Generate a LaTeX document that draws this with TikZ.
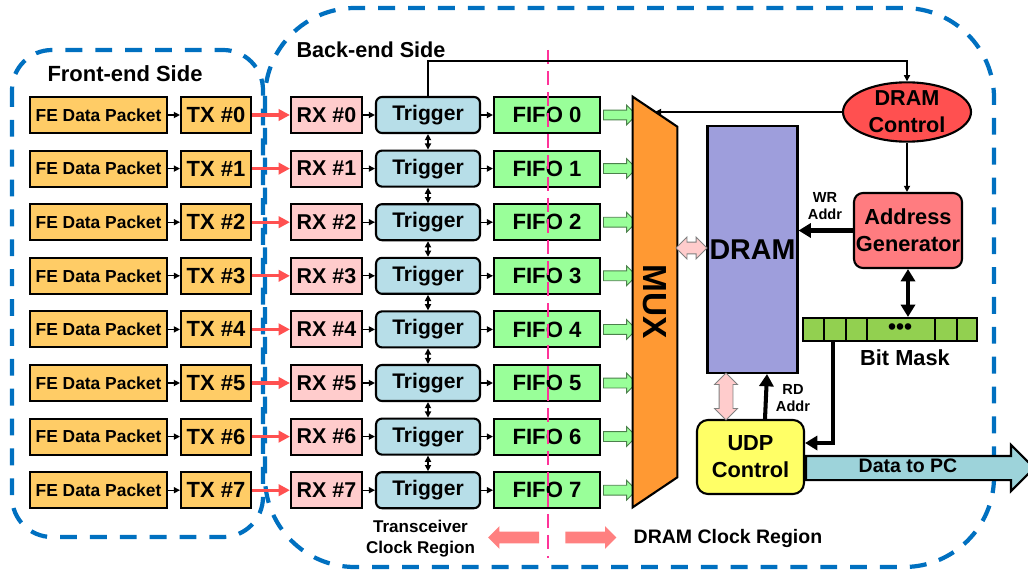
\documentclass[tikz,border=0pt]{standalone}
\usepackage{fontspec}
\setmainfont{Liberation Sans}
\usepackage{tikz}
\usetikzlibrary{shapes.geometric, shapes.arrows, arrows.meta, positioning, calc}
\definecolor{feorange}{HTML}{FFCC66}
\definecolor{rxpink}{HTML}{FFCCCC}
\definecolor{trigblue}{HTML}{B7DEE8}
\definecolor{fifogreen}{HTML}{99FF99}
\definecolor{muxorange}{HTML}{FF9933}
\definecolor{dramviolet}{HTML}{9E9EDC}
\definecolor{ctlred}{HTML}{FF5050}
\definecolor{addrsalmon}{HTML}{FF7C80}
\definecolor{maskgreen}{HTML}{92D050}
\definecolor{udpyellow}{HTML}{FFFF66}
\definecolor{pcteal}{HTML}{9DD3DA}
\definecolor{regionblue}{HTML}{0070C0}
\definecolor{clockpink}{HTML}{FF3399}
\definecolor{linkred}{HTML}{FF5050}
\definecolor{clockarrow}{HTML}{FF8080}

\begin{document}
\begin{tikzpicture}[
    x=0.02cm, y=-0.02cm,
    every node/.style={font=\bfseries},
    blk/.style={rectangle, draw, line width=1.2pt, inner sep=0pt,
                minimum height=0.72cm, align=center},
    febox/.style={blk, fill=feorange, minimum width=2.74cm,
                  font=\bfseries\fontsize{9.9}{12}\selectfont},
    txbox/.style={blk, fill=feorange, minimum width=1.4cm,
                  font=\bfseries\fontsize{12.5}{15}\selectfont},
    rxbox/.style={blk, fill=rxpink, minimum width=1.42cm,
                  font=\bfseries\fontsize{12.2}{15}\selectfont},
    trigbox/.style={blk, fill=trigblue, minimum width=2.08cm, rounded corners=0.12cm,
                    font=\bfseries\fontsize{12}{15}\selectfont},
    fifobox/.style={blk, fill=fifogreen, minimum width=2.12cm,
                    font=\bfseries\fontsize{12.6}{15}\selectfont},
    ctlbox/.style={blk, rounded corners=0.18cm, font=\bfseries\fontsize{12.4}{15.3}\selectfont},
    arrow/.style={-{Triangle[length=3.5pt, width=3.5pt]}, line width=0.7pt},
    dblarrow/.style={{Triangle[length=3.5pt, width=3.5pt]}-{Triangle[length=3.5pt, width=3.5pt]},
                     line width=0.7pt},
    txarrow/.style={-{Triangle[length=6.5pt, width=6.5pt]}, line width=1.8pt, linkred},
    bigarrow/.style={-{Triangle[length=7pt, width=8pt]}, line width=2.3pt},
    bigdbl/.style={{Triangle[length=7pt, width=8pt]}-{Triangle[length=7pt, width=8pt]},
                   line width=2.3pt},
    fatgreen/.style={single arrow, draw=fifogreen!50!black, fill=fifogreen, line width=0.5pt,
                     inner xsep=0pt, inner ysep=0.09cm, minimum height=0.66cm,
                     single arrow head extend=0.1cm},
    pinkdbl/.style={double arrow, draw=gray, fill=rxpink, line width=0.5pt, inner xsep=0pt},
    clockfat/.style={single arrow, fill=clockarrow, inner xsep=0pt, inner ysep=0.11cm,
                     minimum height=1.02cm, single arrow head extend=0.11cm},
    regionbox/.style={draw=regionblue, line width=2.4pt, dash pattern=on 9.6pt off 7.4pt},
    smalllabel/.style={font=\bfseries\fontsize{8.3}{10}\selectfont, align=center}
]
\useasboundingbox (0,0) rectangle (1028,571);

% Side boundaries
\draw[regionbox, rounded corners=0.8cm] (12,50) rectangle (263,537);
\draw[regionbox, rounded corners=1.8cm] (265,8) rectangle (994,567);
\node[font=\bfseries\fontsize{12.5}{15}\selectfont] at (125,74) (felabel) {Front-end Side};
\node[font=\bfseries\fontsize{12.3}{15}\selectfont] at (371,50) (belabel) {Back-end Side};

% Eight channels
\foreach \i in {0,...,7} {
  \pgfmathsetmacro\y{115+53.6*\i}
  \node[febox] at (98.5,\y) (fe\i) {FE Data Packet};
  \node[txbox] at (216,\y) (tx\i) {TX \#\i};
  \node[rxbox] at (326.5,\y) (rx\i) {RX \#\i};
  \node[trigbox] at (428,\y) (trig\i) {Trigger};
  \node[fifobox] at (547,\y) (fifo\i) {FIFO \i};
  \draw[arrow] (fe\i) -- (tx\i);
  \draw[txarrow] (tx\i) -- (rx\i);
  \draw[arrow] (rx\i) -- (trig\i);
  \draw[arrow] (trig\i) -- (fifo\i);
  \node[fatgreen] at ([xshift=0.33cm]fifo\i.east) {};
}
\foreach \i [count=\j] in {0,...,6}
  \draw[dblarrow] (trig\i) -- (trig\j);

% Clock domain border
\draw[clockpink, line width=1.3pt, dash pattern=on 8pt off 4pt] (548,50) -- (548,558);

% MUX
\node[minimum width=0.88cm, minimum height=8.2cm, inner sep=0pt] at (655,302) (muxbox) {};
\draw[line width=1.2pt, fill=muxorange] (muxbox.north west) -- ($(muxbox.north east)+(0,30)$)
    -- ($(muxbox.south east)+(0,-30)$) -- (muxbox.south west) -- cycle;
\node[rotate=-90, font=\bfseries\fontsize{19}{20}\selectfont] at (muxbox.center) (mux) {MUX};
\coordinate (muxslant) at (655,112);

% DRAM and its control
\node[blk, fill=dramviolet, minimum width=1.8cm, minimum height=4.94cm,
      font=\bfseries\fontsize{16.3}{18}\selectfont] at (752.5,249.5) (dram) {DRAM};
\node[ellipse, draw, line width=1.2pt, fill=ctlred, minimum width=2.56cm, minimum height=1.12cm,
      inner sep=0pt, align=center, font=\bfseries\fontsize{12.3}{15.3}\selectfont]
      at (907,112) (dramctl) {DRAM\\Control};
\node[ctlbox, fill=addrsalmon, minimum width=2.16cm, minimum height=1.5cm] at (908,230.5) (addrgen)
    {Address\\Generator};
\node[ctlbox, fill=udpyellow, minimum width=2.14cm, minimum height=1.48cm, rounded corners=0.22cm]
    at (750.5,457) (udp) {UDP\\Control};

% Bit mask
\node[rectangle, draw, line width=1.2pt, fill=maskgreen, minimum width=3.48cm, minimum height=0.46cm,
      inner sep=0pt] at (890,329.5) (bitmask) {};
\foreach \xx in {824,846,867,935,957}
  \draw[line width=1.2pt] (\xx,318) -- (\xx,341);
\node[font=\bfseries\fontsize{13}{13}\selectfont, inner sep=0pt] at (900,329) (dots)
    {\textbullet\textbullet\textbullet};
\node[font=\bfseries\fontsize{12.4}{15}\selectfont] at (905,358) (masklabel) {Bit Mask};

% Arrows
\draw[arrow] (trig0.north) -- ++(0,-35) -| (dramctl.north);
\draw[arrow] (dramctl.west) -- (muxslant);
\draw[arrow] (dramctl.south) -- (dramctl.south |- addrgen.north);
\draw[bigarrow] (addrgen.west) -- (addrgen.west -| dram.east);
\node[smalllabel] at (825,206) (wrlabel) {WR\\Addr};
\draw[bigdbl] (addrgen.south) -- (addrgen.south |- bitmask.north);
\draw[bigarrow] ([xshift=-1.14cm]bitmask.south) |- ([yshift=0.28cm]udp.east);
\draw[bigarrow] ([xshift=0.29cm]udp.north) -- ([xshift=0.29cm]dram.south);
\node[smalllabel] at (793,398) (rdlabel) {RD\\Addr};
\node[pinkdbl, inner ysep=0.11cm, double arrow head extend=0.1cm, minimum height=0.62cm]
    at (691.5,248) (muxdram) {};
\node[pinkdbl, inner ysep=0.13cm, double arrow head extend=0.09cm, minimum height=0.94cm, rotate=90]
    at (726,396.5) (dramudp) {};

% Data out
\node[single arrow, draw, fill=pcteal, line width=1.2pt, inner xsep=0pt, inner ysep=0.22cm,
      minimum height=4.56cm, single arrow head extend=0.22cm] at (914,468) (pcarrow) {};
\node[font=\bfseries\fontsize{11.1}{13}\selectfont] at (908,466) (pclabel) {Data to PC};

% Clock regions
\node[clockfat, rotate=180] at (516.5,537.5) (txclk) {};
\node[clockfat] at (588,537.5) (dramclk) {};
\node[font=\bfseries\fontsize{9.7}{12}\selectfont, align=center] at (420.5,539) (txclklabel)
    {Transceiver\\Clock Region};
\node[font=\bfseries\fontsize{11.1}{13}\selectfont] at (728,538) (dramclklabel) {DRAM Clock Region};

\end{tikzpicture}
\end{document}
